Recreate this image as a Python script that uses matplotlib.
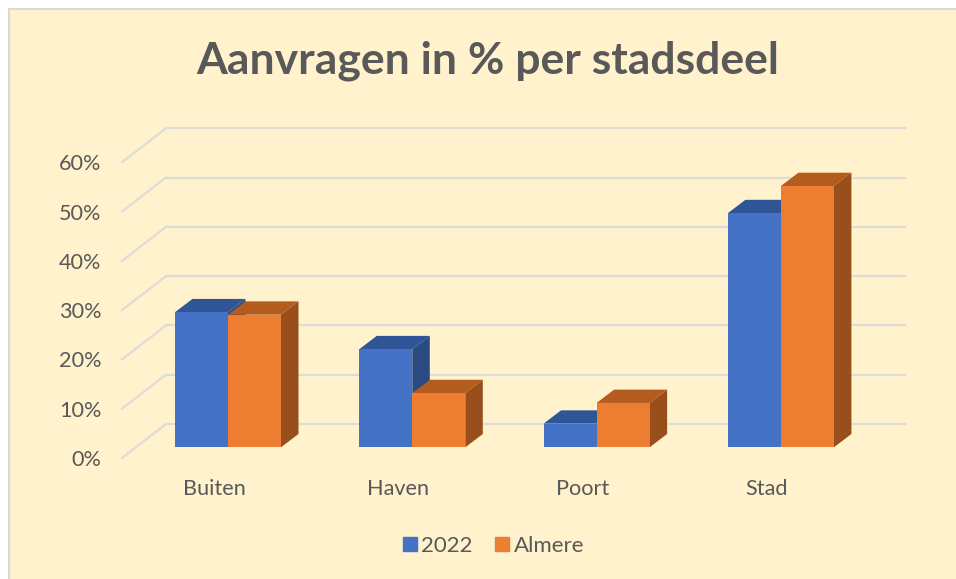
import matplotlib
matplotlib.use("Agg")
import matplotlib.pyplot as plt
from matplotlib.patches import Patch, Rectangle

categories = ["Buiten", "Haven", "Poort", "Stad"]
values_2022 = [27.4, 19.9, 4.8, 47.5]
values_almere = [26.9, 11.0, 9.0, 53.0]
y_ticks = [0, 10, 20, 30, 40, 50, 60]
y_labels = ["0%", "10%", "20%", "30%", "40%", "50%", "60%"]
title = "Aanvragen in % per stadsdeel"

W, H = 956, 579
INK = "#595959"
GRID = "#DFDBD6"
BG = "#FFF2CC"
plt.rcParams["font.family"] = ["Lato", "DejaVu Sans"]

fig = plt.figure(figsize=(W / 100, H / 100), dpi=100, facecolor="white")
fig.add_artist(Rectangle((9 / W, -0.01), 1, 1.01 - 9 / H, transform=fig.transFigure,
                         facecolor=BG, edgecolor="#D9D9D9", linewidth=1.5, zorder=-5))

# plot region in pixels
L, R, T, B = 122, 905, 128, 458
ax = fig.add_axes([L / W, 1 - B / H, (R - L) / W, (B - T) / H])
ax.patch.set_alpha(0)
PX_Y = 4.93      # px per percentage point
PX_X = 184.3     # px per category
ax.set_xlim((L - 228) / PX_X, (R - 228) / PX_X)
ax.set_ylim(0, (B - T) / PX_Y)
for s in ax.spines.values():
    s.set_visible(False)

dx = lambda px: px / PX_X
dy = lambda px: px / PX_Y

# walls: back gridlines and the diagonal side-wall lines
WALL_X, WALL_Y = 44, 34
for t in y_ticks:
    ax.plot([dx(WALL_X) + ax.get_xlim()[0], ax.get_xlim()[1]], [t + dy(WALL_Y)] * 2,
            color=GRID, lw=1.6, zorder=1, clip_on=False)
    ax.plot([ax.get_xlim()[0], ax.get_xlim()[0] + dx(WALL_X)], [t, t + dy(WALL_Y)],
            color=GRID, lw=1.6, zorder=1, clip_on=False)

# 3D bars
FLOOR = dy(B - 447.3)
BAR_W = 53 / PX_X
DX, DY = dx(17.5), dy(13.3)
styles = [("#4472C4", "#2F5597", "#2B4A82"), ("#ED7D31", "#B45B1E", "#984F1B")]
z = 3
for i in range(len(categories)):
    for j, vals in enumerate([values_2022, values_almere]):
        front, top, side = styles[j]
        x0 = i - BAR_W + j * BAR_W
        x1 = x0 + BAR_W
        y0, y1 = FLOOR, FLOOR + vals[i]
        ax.fill([x1, x1 + DX, x1 + DX, x1], [y0, y0 + DY, y1 + DY, y1], color=side, lw=0, zorder=z, clip_on=False)
        ax.fill([x0, x0 + DX, x1 + DX, x1], [y1, y1 + DY, y1 + DY, y1], color=top, lw=0, zorder=z, clip_on=False)
        ax.bar(x0, vals[i], BAR_W, bottom=FLOOR, align="edge", color=front, lw=0, zorder=z + 0.5)
        z += 1

# axes ticks
ax.set_yticks(y_ticks, y_labels)
ax.set_xticks([i - dx(14) for i in range(len(categories))], categories)
ax.tick_params(axis="both", length=0, labelsize=15.6, labelcolor=INK)
ax.tick_params(axis="y", pad=15)
ax.tick_params(axis="x", pad=15)

fig.text(488 / W, 1 - 61 / H, title, ha="center", va="center", fontsize=32,
         fontweight="bold", color=INK)

handles = [Patch(color=styles[0][0], label="2022"), Patch(color=styles[1][0], label="Almere")]
ax.legend(handles=handles, loc="center", bbox_to_anchor=(493.5 / W, 1 - 546 / H),
          bbox_transform=fig.transFigure, ncol=2, frameon=False, fontsize=16, labelcolor=INK,
          handlelength=0.63, handleheight=0.63, handletextpad=0.22, columnspacing=1.0)

fig.savefig("out.png", dpi=100)
